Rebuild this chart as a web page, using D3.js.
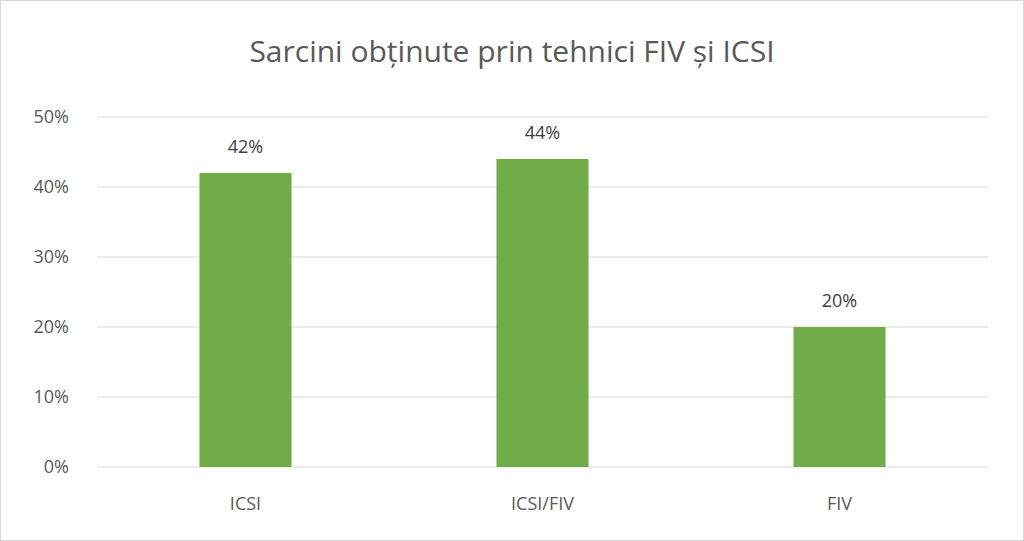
<!DOCTYPE html>
<html><head><meta charset="utf-8">
<script src="https://cdn.jsdelivr.net/npm/d3@7/dist/d3.min.js"></script>
<style>body{margin:0;background:#fff}svg{display:block}</style>
</head><body>
<script>
const categories = ["ICSI", "ICSI/FIV", "FIV"];
const values = [0.42, 0.44, 0.20];
const yTicks = [0, 0.1, 0.2, 0.3, 0.4, 0.5];
const title = "Sarcini obținute prin tehnici FIV și ICSI";

const W = 1024, H = 541;
const m = {left: 97, right: 36, top: 117, bottom: 74};
const font = "'Open Sans', 'Liberation Sans', sans-serif";
const svg = d3.select("body").append("svg").attr("width", W).attr("height", H);
svg.append("rect").attr("x", 0.5).attr("y", 0.5).attr("width", W - 1).attr("height", H - 1)
  .attr("fill", "#fff").attr("stroke", "#d9d9d9");

const x = d3.scaleBand().domain(categories).range([m.left, W - m.right]).padding(0);
const y = d3.scaleLinear().domain([0, 0.5]).range([H - m.bottom, m.top]);

svg.append("g").selectAll("line").data(yTicks).join("line")
  .attr("x1", m.left).attr("x2", W - m.right)
  .attr("y1", d => y(d)).attr("y2", d => y(d))
  .attr("stroke", "#d9d9d9").attr("stroke-width", 1);

svg.append("g").selectAll("text").data(yTicks).join("text")
  .attr("x", m.left - 28).attr("y", d => y(d)).attr("dy", "0.35em")
  .attr("text-anchor", "end").attr("font-family", font).attr("font-size", 18)
  .attr("fill", "#595959").text(d => d3.format(".0%")(d));

const bw = x.bandwidth() * 0.31;
svg.append("g").selectAll("rect").data(values).join("rect")
  .attr("x", (d, i) => x(categories[i]) + x.bandwidth() / 2 - bw / 2)
  .attr("width", bw)
  .attr("y", d => y(d)).attr("height", d => y(0) - y(d))
  .attr("fill", "#70AD47");

svg.append("g").selectAll("text").data(values).join("text")
  .attr("x", (d, i) => x(categories[i]) + x.bandwidth() / 2)
  .attr("y", d => y(d) - 20)
  .attr("text-anchor", "middle").attr("font-family", font).attr("font-size", 18)
  .attr("fill", "#404040").text(d => d3.format(".0%")(d));

svg.append("g").selectAll("text").data(categories).join("text")
  .attr("x", d => x(d) + x.bandwidth() / 2).attr("y", H - m.bottom + 43)
  .attr("text-anchor", "middle").attr("font-family", font).attr("font-size", 18)
  .attr("fill", "#595959").text(d => d);

svg.append("text").attr("x", 512).attr("y", 62).attr("text-anchor", "middle")
  .attr("font-family", font).attr("font-size", 30).attr("fill", "#595959").text(title);
</script>
</body></html>
